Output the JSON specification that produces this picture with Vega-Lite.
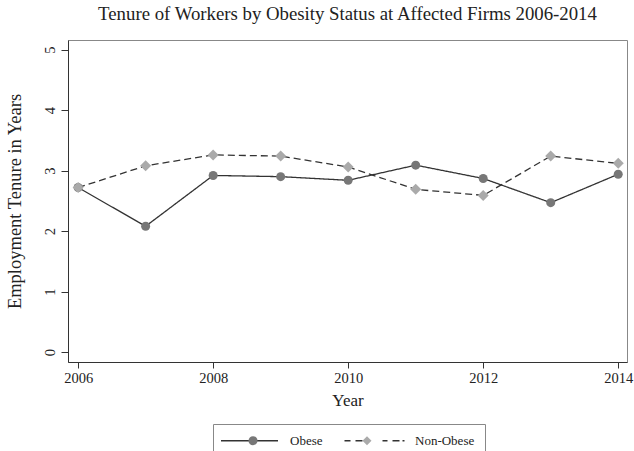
{
  "$schema": "https://vega.github.io/schema/vega-lite/v6.json",
  "autosize": {"type": "none"},
  "width": 559,
  "height": 322,
  "padding": {"left": 68, "top": 40, "right": 7, "bottom": 89},
  "background": "white",
  "title": {
    "text": "Tenure of Workers by Obesity Status at Affected Firms 2006-2014",
    "font": "Liberation Serif",
    "fontSize": 18.8,
    "fontWeight": "normal",
    "color": "#222",
    "anchor": "middle",
    "offset": 16
  },
  "config": {
    "view": {"stroke": "#888", "strokeWidth": 1},
    "font": "Liberation Serif"
  },
  "data": {
    "values": [
      {"Year": 2006, "Status": "Obese", "Tenure": 2.72},
      {"Year": 2007, "Status": "Obese", "Tenure": 2.08},
      {"Year": 2008, "Status": "Obese", "Tenure": 2.92},
      {"Year": 2009, "Status": "Obese", "Tenure": 2.90},
      {"Year": 2010, "Status": "Obese", "Tenure": 2.84},
      {"Year": 2011, "Status": "Obese", "Tenure": 3.09},
      {"Year": 2012, "Status": "Obese", "Tenure": 2.87},
      {"Year": 2013, "Status": "Obese", "Tenure": 2.47},
      {"Year": 2014, "Status": "Obese", "Tenure": 2.94},
      {"Year": 2006, "Status": "Non-Obese", "Tenure": 2.72},
      {"Year": 2007, "Status": "Non-Obese", "Tenure": 3.08},
      {"Year": 2008, "Status": "Non-Obese", "Tenure": 3.26},
      {"Year": 2009, "Status": "Non-Obese", "Tenure": 3.24},
      {"Year": 2010, "Status": "Non-Obese", "Tenure": 3.06},
      {"Year": 2011, "Status": "Non-Obese", "Tenure": 2.69},
      {"Year": 2012, "Status": "Non-Obese", "Tenure": 2.59},
      {"Year": 2013, "Status": "Non-Obese", "Tenure": 3.24},
      {"Year": 2014, "Status": "Non-Obese", "Tenure": 3.12}
    ]
  },
  "encoding": {
    "x": {
      "field": "Year",
      "type": "quantitative",
      "scale": {"domain": [2005.85, 2014.13], "nice": false, "zero": false},
      "axis": {
        "values": [2006, 2008, 2010, 2012, 2014],
        "format": "d",
        "grid": false,
        "labelFont": "Liberation Serif",
        "labelFontSize": 14.5,
        "labelColor": "#222",
        "labelPadding": 3,
        "labelFlush": false,
        "tickSize": 6,
        "tickColor": "#333",
        "domainColor": "#333",
        "title": "Year",
        "titleFont": "Liberation Serif",
        "titleFontSize": 17,
        "titleFontWeight": "normal",
        "titleColor": "#222",
        "titlePadding": 8
      }
    },
    "y": {
      "field": "Tenure",
      "type": "quantitative",
      "scale": {"domain": [-0.165, 5.16], "nice": false, "zero": false},
      "axis": {
        "values": [0, 1, 2, 3, 4, 5],
        "format": "d",
        "grid": false,
        "labelAngle": -90,
        "labelFont": "Liberation Serif",
        "labelFontSize": 14.5,
        "labelColor": "#222",
        "labelPadding": 4,
        "tickSize": 7,
        "tickColor": "#333",
        "domainColor": "#333",
        "title": "Employment Tenure in Years",
        "titleFont": "Liberation Serif",
        "titleFontSize": 18.5,
        "titleFontWeight": "normal",
        "titleColor": "#222",
        "titlePadding": 18
      }
    }
  },
  "resolve": {
    "scale": {"shape": "independent", "size": "independent"},
    "legend": {"shape": "independent", "color": "independent"}
  },
  "layer": [
    {
      "mark": {"type": "line", "color": "#333", "strokeWidth": 1.3},
      "encoding": {
        "detail": {"field": "Status"},
        "strokeDash": {
          "field": "Status",
          "type": "nominal",
          "scale": {"domain": ["Obese", "Non-Obese"], "range": [[1, 0], [7, 4]]},
          "legend": null
        }
      }
    },
    {
      "mark": {"type": "point", "filled": true, "opacity": 1},
      "encoding": {
        "shape": {
          "field": "Status",
          "type": "nominal",
          "scale": {"domain": ["Obese", "Non-Obese"], "range": ["circle", "diamond"]},
          "legend": null
        },
        "color": {
          "field": "Status",
          "type": "nominal",
          "scale": {"domain": ["Obese", "Non-Obese"], "range": ["#777777", "#aaaaaa"]},
          "legend": null
        },
        "size": {
          "field": "Status",
          "type": "nominal",
          "scale": {"domain": ["Obese", "Non-Obese"], "range": [81, 121]},
          "legend": null
        }
      }
    },
    {
      "transform": [{"filter": "datum.Year < 0"}],
      "mark": {"type": "point", "filled": true, "opacity": 1, "color": "#333333", "size": 100},
      "encoding": {
        "shape": {
          "field": "Status",
          "type": "nominal",
          "scale": {
            "domain": ["Obese", "Non-Obese"],
            "range": [
              "M-5.7,-0.13L5.7,-0.13L5.7,0.13L-5.7,0.13Z",
              "M-6,-0.13L-4.8,-0.13L-4.8,0.13L-6,0.13ZM-3.8,-0.13L-2.4,-0.13L-2.4,0.13L-3.8,0.13ZM-1.8,-0.13L-0.9,-0.13L-0.9,0.13L-1.8,0.13ZM1.6,-0.13L2.6,-0.13L2.6,0.13L1.6,0.13ZM3.6,-0.13L5,-0.13L5,0.13L3.6,0.13ZM5.6,-0.13L6,-0.13L6,0.13L5.6,0.13Z"
            ]
          },
          "legend": {
            "orient": "none",
            "legendX": 145,
            "legendY": 384,
            "direction": "horizontal",
            "title": null,
            "strokeColor": "#888",
            "fillColor": "white",
            "padding": 10,
            "symbolSize": 100,
            "symbolOffset": 20,
            "labelOffset": 34,
            "columnPadding": 18,
            "labelFont": "Liberation Serif",
            "labelFontSize": 13,
            "labelColor": "#222"
          }
        }
      }
    },
    {
      "transform": [{"filter": "datum.Year < 0"}],
      "mark": {"type": "point", "filled": true, "opacity": 1, "size": 100},
      "encoding": {
        "shape": {
          "field": "Status",
          "type": "nominal",
          "scale": {
            "domain": ["Obese", "Non-Obese"],
            "range": [
              "M-0.2,0A0.9,0.9,0,1,1,1.6,0A0.9,0.9,0,1,1,-0.2,0Z",
              "M0,-0.9L0.9,0L0,0.9L-0.9,0Z"
            ]
          },
          "legend": {
            "orient": "none",
            "legendX": 145,
            "legendY": 384,
            "direction": "horizontal",
            "title": null,
            "padding": 10,
            "symbolSize": 100,
            "symbolOffset": 20,
            "labelOffset": 34,
            "columnPadding": 50.5,
            "labelFont": "Liberation Serif",
            "labelFontSize": 13,
            "labelExpr": "''"
          }
        },
        "color": {
          "field": "Status",
          "type": "nominal",
          "scale": {"domain": ["Obese", "Non-Obese"], "range": ["#777777", "#aaaaaa"]},
          "legend": {
            "orient": "none",
            "legendX": 145,
            "legendY": 384,
            "direction": "horizontal",
            "title": null,
            "padding": 10,
            "symbolSize": 100,
            "symbolOffset": 20,
            "labelOffset": 34,
            "columnPadding": 50.5,
            "labelFont": "Liberation Serif",
            "labelFontSize": 13,
            "labelExpr": "''"
          }
        }
      }
    }
  ]
}
